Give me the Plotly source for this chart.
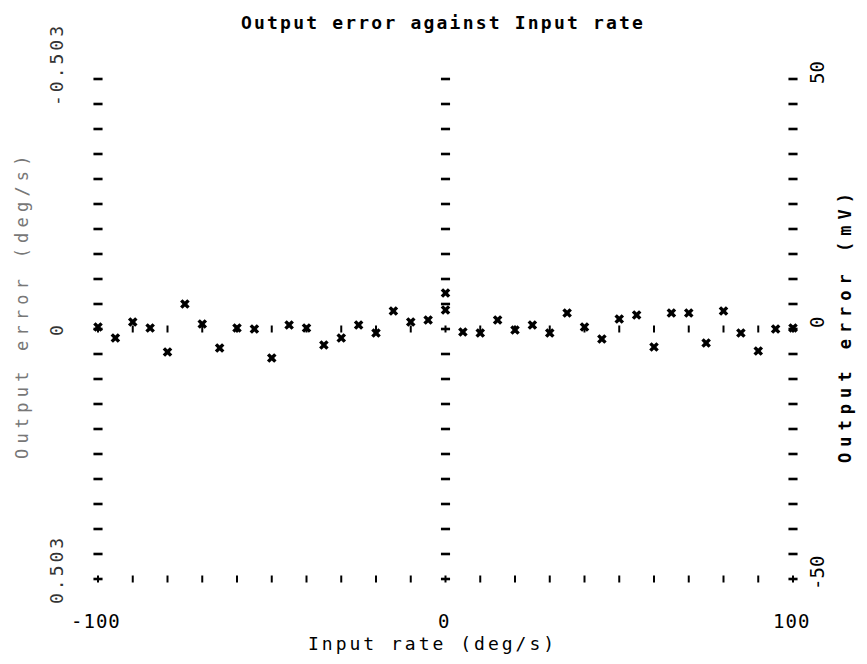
import numpy as np
import plotly.graph_objects as go

# Input rate (deg/s) and measured output error (mV)
input_rate = [-100, -95, -90, -85, -80, -75, -70, -65, -60, -55, -50, -45, -40, -35,
              -30, -25, -20, -15, -10, -5, 0, 0, 5, 10, 15, 20, 25, 30, 35, 40, 45,
              50, 55, 60, 65, 70, 75, 80, 85, 90, 95, 100]
output_error_mv = [0.4, -1.8, 1.4, 0.2, -4.6, 5.0, 1.0, -3.8, 0.2, 0.0, -5.8, 0.8, 0.2, -3.2,
                   -1.8, 0.8, -0.8, 3.6, 1.4, 1.8, 3.8, 7.2, -0.6, -0.8, 1.8, -0.2, 0.8, -0.8,
                   3.2, 0.4, -2.0, 2.0, 2.8, -3.6, 3.2, 3.2, -2.8, 3.6, -0.8, -4.4, 0.0, 0.2]

# Axis ticks and labels
x_ticks = [-100, 0, 100]
x_tick_labels = ["-100", "0", "100"]
y_ticks = [50, 0, -50]
left_tick_labels = ["-0.503", "0", "0.503"]
right_tick_labels = ["50", "0", "-50"]
x_minor_step = 10
y_minor_step = 5

title_text = "Output error against Input rate"
x_title = "Input rate (deg/s)"
left_title = "Output error (deg/s)"
right_title = "Output error (mV)"

FONT = "DejaVu Sans Mono"


def spaced(text, px):
    return f'<span style="letter-spacing:{px}px">{text}</span>'


fig = go.Figure()

# dashed vertical scales at each major x position
col_x, col_y = [], []
for xv in x_ticks:
    for yv in np.arange(y_ticks[-1], y_ticks[0] + y_minor_step, y_minor_step):
        col_x.append(xv)
        col_y.append(yv)
fig.add_trace(go.Scatter(
    x=col_x, y=col_y, mode="markers", hoverinfo="skip", cliponaxis=False,
    marker=dict(symbol="line-ew", size=6.5, line=dict(width=2.6, color="black")),
))

# tick rows along the bottom edge and the zero line
row_x, row_y = [], []
for yv in [y_ticks[-1], 0]:
    for xv in np.arange(x_ticks[0], x_ticks[-1] + x_minor_step, x_minor_step):
        row_x.append(xv)
        row_y.append(yv)
fig.add_trace(go.Scatter(
    x=row_x, y=row_y, mode="markers", hoverinfo="skip", cliponaxis=False,
    marker=dict(symbol="line-ns", size=5, line=dict(width=2, color="black")),
))

# measurements
fig.add_trace(go.Scatter(
    x=input_rate, y=output_error_mv, mode="markers", cliponaxis=False,
    marker=dict(symbol="x", size=8.5, color="black", line=dict(width=0)),
))

annotations = []


def label(**kw):
    kw.setdefault("showarrow", False)
    kw.setdefault("xanchor", "center")
    kw.setdefault("yanchor", "middle")
    annotations.append(kw)


# x tick labels
for xv, lab in zip(x_ticks, x_tick_labels):
    label(x=xv, y=y_ticks[-1], xref="x", yref="y", text=spaced(lab, 1),
          yshift=-42, xshift=-2, font=dict(family=FONT, size=19, color="black"))
# left tick labels (deg/s scale, inverted)
left_shift = [14, 0, 9]
for yv, lab, sh in zip(y_ticks, left_tick_labels, left_shift):
    label(x=x_ticks[0], y=yv, xref="x", yref="y", text=spaced(lab, 3),
          xshift=-42, yshift=sh, textangle=-90,
          font=dict(family=FONT, size=18, color="#333333"))
# right tick labels (mV scale)
for yv, lab in zip(y_ticks, right_tick_labels):
    label(x=x_ticks[-1], y=yv, xref="x", yref="y", text=lab,
          xshift=24, yshift=6, textangle=-90,
          font=dict(family=FONT, size=19, color="black"))

# titles
label(x=0.5, y=1, xref="paper", yref="paper", text="<b>" + spaced(title_text, 2.2) + "</b>",
      yshift=57, xshift=-3, font=dict(family=FONT, size=18, color="black"))
label(x=0.5, y=0, xref="paper", yref="paper", text=spaced(x_title, 3),
      yshift=-64, xshift=-13, font=dict(family=FONT, size=18, color="black"))
label(x=0, y=0.5, xref="paper", yref="paper", text=spaced(left_title, 5.2),
      xshift=-76, yshift=24, textangle=-90,
      font=dict(family=FONT, size=17, color="#777777"))
label(x=1, y=0.5, xref="paper", yref="paper", text="<b>" + spaced(right_title, 6) + "</b>",
      xshift=52, yshift=4, textangle=-90,
      font=dict(family=FONT, size=17, color="black"))

fig.update_layout(
    width=867, height=664,
    margin=dict(l=98, r=74, t=79, b=85),
    paper_bgcolor="white", plot_bgcolor="white",
    showlegend=False,
    xaxis=dict(range=[x_ticks[0], x_ticks[-1]], visible=False),
    yaxis=dict(range=[y_ticks[-1], y_ticks[0]], visible=False),
    annotations=annotations,
)

fig.write_html("out.html")
